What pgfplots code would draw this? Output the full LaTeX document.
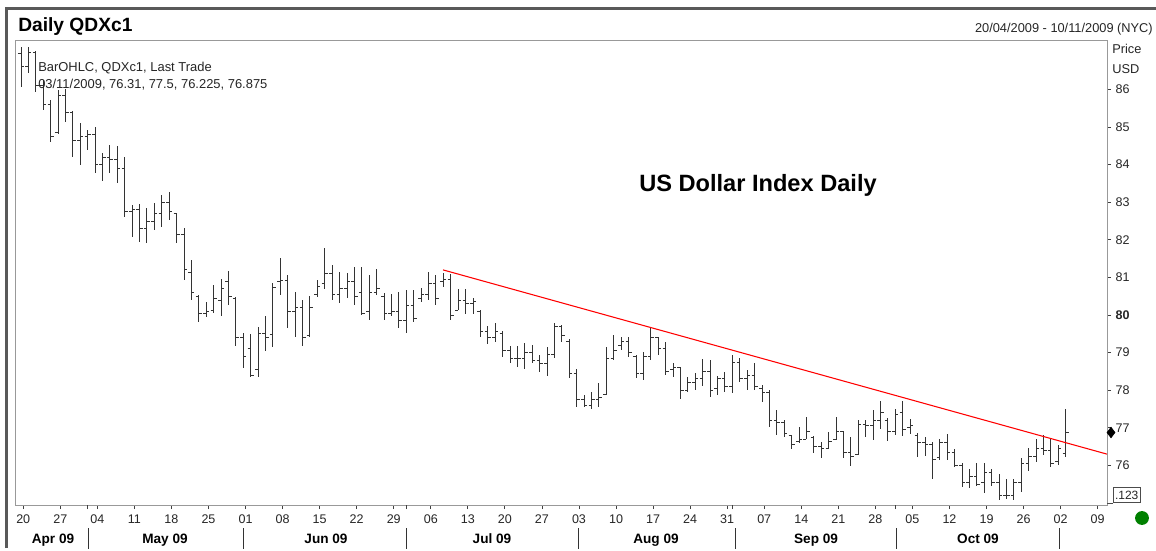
\documentclass[border=0pt]{standalone}
\usepackage{pgfplots}
\pgfplotsset{compat=1.18}
\usepackage{pgfplotstable}
\usepackage{fontspec}
\setmainfont{Liberation Sans}

\pgfdeclareplotmark{openl}{\pgfpathmoveto{\pgfqpoint{-2.3pt}{0pt}}\pgfpathlineto{\pgfqpoint{0pt}{0pt}}\pgfusepathqstroke}
\pgfdeclareplotmark{closer}{\pgfpathmoveto{\pgfqpoint{0pt}{0pt}}\pgfpathlineto{\pgfqpoint{2.3pt}{0pt}}\pgfusepathqstroke}

\pgfplotstableread{
x o h l c
0 86.95 87.13 86.06 86.60
1 86.60 87.13 86.44 86.98
2 86.98 87.02 85.93 86.10
3 86.10 86.25 85.45 85.60
4 85.60 85.72 84.60 84.75
5 84.85 85.98 84.84 85.85
6 85.85 86.01 85.13 85.40
7 85.40 85.43 84.20 84.65
8 84.65 85.11 83.99 84.75
9 84.75 84.92 84.39 84.80
10 84.80 85.00 83.78 84.00
11 84.00 84.31 83.56 84.20
12 84.20 84.52 83.78 84.15
13 84.15 84.49 83.51 83.90
14 83.90 84.20 82.61 82.75
15 82.75 82.93 82.07 82.80
16 82.80 82.95 81.94 82.30
17 82.30 82.85 81.91 82.50
18 82.50 82.98 82.26 82.70
19 82.70 83.19 82.34 83.00
20 83.00 83.27 82.53 82.75
21 82.70 82.71 81.91 82.15
22 82.15 82.31 80.93 81.20
23 81.12 81.46 80.40 80.61
24 80.50 80.53 79.81 80.05
25 80.05 80.35 79.95 80.10
26 80.13 80.80 80.05 80.45
27 80.40 80.96 79.97 80.70
28 80.88 81.17 80.27 80.48
29 80.45 80.48 79.18 79.41
30 79.41 79.52 78.59 78.90
31 79.12 79.49 78.35 78.40
32 78.54 79.68 78.35 79.52
33 79.52 79.97 79.04 79.41
34 79.47 80.85 79.15 80.72
35 80.88 81.52 80.53 80.93
36 80.93 81.06 79.65 80.10
37 80.10 80.61 79.41 80.20
38 80.20 80.40 79.18 79.40
39 79.45 80.51 79.41 80.20
40 80.55 80.93 80.48 80.75
41 80.85 81.78 80.69 81.10
42 81.10 81.33 80.40 80.55
43 80.55 81.14 80.32 80.70
44 80.70 81.12 80.45 80.90
45 80.90 81.28 80.27 80.50
46 80.60 81.28 80.00 80.05
47 80.10 81.06 79.87 80.60
48 80.60 81.22 80.53 80.70
49 80.50 80.59 79.87 80.05
50 80.05 80.56 79.97 80.10
51 80.10 80.61 79.65 79.85
52 79.85 80.66 79.52 80.25
53 80.25 80.66 79.81 79.90
54 80.45 80.72 80.35 80.55
55 80.55 81.14 80.40 80.85
56 80.85 81.06 80.27 80.45
57 80.90 81.12 80.74 80.95
58 80.95 81.09 79.87 80.00
59 80.13 80.69 80.13 80.40
60 80.40 80.69 80.03 80.30
61 80.30 80.45 80.03 80.35
62 80.10 80.13 79.41 79.55
63 79.55 79.71 79.23 79.40
64 79.40 79.79 79.28 79.55
65 79.50 79.57 78.88 79.05
66 79.05 79.18 78.72 78.85
67 78.85 79.18 78.62 78.85
68 78.85 79.26 78.56 79.00
69 79.00 79.20 78.72 78.80
70 78.80 78.94 78.48 78.70
71 78.70 79.15 78.38 78.95
72 78.95 79.79 78.86 79.70
73 79.70 79.73 79.28 79.45
74 79.30 79.36 78.32 78.45
75 78.45 78.56 77.55 77.75
76 77.75 77.87 77.55 77.60
77 77.60 77.95 77.50 77.75
78 77.75 78.19 77.55 77.80
79 77.90 79.15 77.87 78.85
80 78.85 79.47 78.80 79.05
81 79.20 79.41 79.07 79.30
82 79.30 79.41 78.88 79.00
83 78.90 78.94 78.32 78.45
84 78.45 79.02 78.27 78.90
85 78.90 79.68 78.80 79.40
86 79.40 79.41 78.94 79.10
87 79.10 79.28 78.40 78.50
88 78.55 78.72 78.35 78.60
89 78.60 78.62 77.77 78.00
90 78.00 78.35 77.95 78.20
91 78.20 78.46 78.01 78.30
92 78.30 78.83 78.11 78.50
93 78.50 78.80 77.82 78.00
94 78.05 78.38 77.87 78.30
95 78.30 78.48 77.95 78.10
96 78.10 78.94 77.93 78.75
97 78.75 78.86 78.22 78.30
98 78.30 78.54 78.01 78.40
99 78.40 78.72 78.01 78.10
100 78.05 78.14 77.69 77.95
101 77.95 78.01 77.02 77.20
102 77.20 77.47 76.81 77.15
103 77.15 77.21 76.76 76.85
104 76.80 76.81 76.44 76.55
105 76.65 77.02 76.60 76.70
106 76.70 77.29 76.70 76.90
107 76.75 76.78 76.33 76.50
108 76.50 76.62 76.20 76.45
109 76.45 76.89 76.44 76.65
110 76.70 77.29 76.68 76.90
111 76.90 76.91 76.20 76.35
112 76.35 76.76 75.98 76.25
113 76.30 77.21 76.28 77.10
114 77.10 77.21 76.76 77.05
115 77.05 77.47 76.68 77.20
116 77.20 77.71 76.97 77.40
117 77.20 77.26 76.65 76.90
118 76.90 77.50 76.81 77.35
119 77.40 77.71 76.78 76.95
120 77.00 77.23 76.84 77.05
121 76.80 76.86 76.22 76.60
122 76.60 76.76 76.25 76.55
123 76.55 76.62 75.64 76.15
124 76.20 76.70 76.14 76.60
125 76.60 76.84 76.14 76.35
126 76.35 76.44 75.96 76.00
127 76.00 76.06 75.43 75.55
128 75.55 75.90 75.40 75.70
129 75.70 76.06 75.45 75.50
130 75.55 76.06 75.27 75.80
131 75.80 75.90 75.45 75.55
132 75.55 75.77 75.08 75.20
133 75.20 75.64 75.11 75.20
134 75.20 75.64 75.08 75.55
135 75.55 76.20 75.29 76.05
136 76.05 76.46 75.85 76.25
137 76.25 76.70 76.09 76.45
138 76.45 76.81 76.28 76.40
139 76.40 76.73 75.96 76.05
140 76.10 76.54 76.01 76.45
141 76.31 77.50 76.225 76.875
}\ohlc

\begin{document}
\begin{tikzpicture}
\begin{scope}[x=0.75pt,y=-0.75pt]
\path[use as bounding box, fill=white] (0,0) rectangle (1156,548);
\draw[line width=2.4pt, black!65] (6.5,548) -- (6.5,8.5) -- (1156,8.5);
\end{scope}
\begin{axis}[
  at={(11.25pt,-378.75pt)}, anchor=south west,
  scale only axis, width=819pt, height=348.75pt,
  xmin=-0.81, xmax=146.56, ymin=74.947, ymax=87.314,
  clip=false,
  axis line style={draw=black!40, line width=0.7pt},
  tick align=outside,
  xtick pos=bottom, ytick pos=right, yticklabel pos=right,
  xtick={0.3,5.3,...,145.3},
  xticklabels={20,27,04,11,18,25,01,08,15,22,29,06,13,20,27,03,10,17,24,31,07,14,21,28,05,12,19,26,02,09},
  extra x ticks={9,52,96,118}, extra x tick labels={},
  ytick={76,77,...,86},
  yticklabels={76,77,78,79,\textbf{80},81,82,83,84,85,86},
  tick style={black!75, line width=0.6pt},
  major tick length=3pt,
  ticklabel style={font=\fontsize{9.4}{10}\selectfont, text=black!85},
  xticklabel style={yshift=-1pt},
]
\addplot[only marks, mark=openl, black!80, line width=0.7pt,
  error bars/.cd, y dir=both, y explicit, error mark=none,
  error bar style={black!80, line width=0.75pt}]
  table[x=x, y=o, y error plus expr=\thisrow{h}-\thisrow{o}, y error minus expr=\thisrow{o}-\thisrow{l}] {\ohlc};
\addplot[only marks, mark=closer, black!80, line width=0.7pt] table[x=x, y=c] {\ohlc};
\addplot[red, line width=0.8pt] coordinates {(56.95,81.20) (146.56,76.30)};
\addplot[only marks, mark=diamond*, mark size=4pt, black] coordinates {(147.1,76.875)};
\pgfplotsinvokeforeach{9.04,29.96,51.96,75.17,96.36,118.2,140.2}{
  \draw[black!80, line width=0.6pt] (axis cs:#1,74.33) -- (axis cs:#1,73.78);
}
\node[font=\bfseries\fontsize{10.2}{11}\selectfont, anchor=base] at (axis cs:4.32,73.93) {Apr 09};
\node[font=\bfseries\fontsize{10.2}{11}\selectfont, anchor=base] at (axis cs:19.43,73.93) {May 09};
\node[font=\bfseries\fontsize{10.2}{11}\selectfont, anchor=base] at (axis cs:41.16,73.93) {Jun 09};
\node[font=\bfseries\fontsize{10.2}{11}\selectfont, anchor=base] at (axis cs:63.56,73.93) {Jul 09};
\node[font=\bfseries\fontsize{10.2}{11}\selectfont, anchor=base] at (axis cs:85.7,73.93) {Aug 09};
\node[font=\bfseries\fontsize{10.2}{11}\selectfont, anchor=base] at (axis cs:107.3,73.93) {Sep 09};
\node[font=\bfseries\fontsize{10.2}{11}\selectfont, anchor=base] at (axis cs:129.15,73.93) {Oct 09};
\end{axis}
\begin{scope}[x=0.75pt,y=-0.75pt]
\node[anchor=base west, inner sep=0pt, font=\bfseries\fontsize{14.4}{16}\selectfont] at (18,32) {Daily QDXc1};
\node[anchor=base east, inner sep=0pt, font=\fontsize{9.6}{11}\selectfont, text=black!85] at (1153,33) {20/04/2009 - 10/11/2009 (NYC)};
\node[anchor=base west, inner sep=0pt, font=\fontsize{9.6}{11}\selectfont, text=black!85] at (1112,54) {Price};
\node[anchor=base west, inner sep=0pt, font=\fontsize{9.6}{11}\selectfont, text=black!85] at (1112,74) {USD};
\node[anchor=base west, inner sep=0pt, font=\fontsize{9.7}{11}\selectfont, text=black!85] at (38,72) {BarOHLC, QDXc1, Last Trade};
\node[anchor=base west, inner sep=0pt, font=\fontsize{9.7}{11}\selectfont, text=black!85] at (38,89) {03/11/2009, 76.31, 77.5, 76.225, 76.875};
\node[anchor=base, inner sep=0pt, font=\bfseries\fontsize{17.7}{20}\selectfont] at (758,191) {US Dollar Index Daily};
\draw[black!70, line width=0.6pt] (1107,503) -- (1113,503);
\node[draw=black!70, line width=0.6pt, inner sep=1.2pt, anchor=west, font=\fontsize{9}{10}\selectfont, text=black!85, minimum height=11.25pt] at (1113,495) {.123};
\fill[green!50!black] (1142,518) circle (5.2pt);
\end{scope}
\end{tikzpicture}
\end{document}
